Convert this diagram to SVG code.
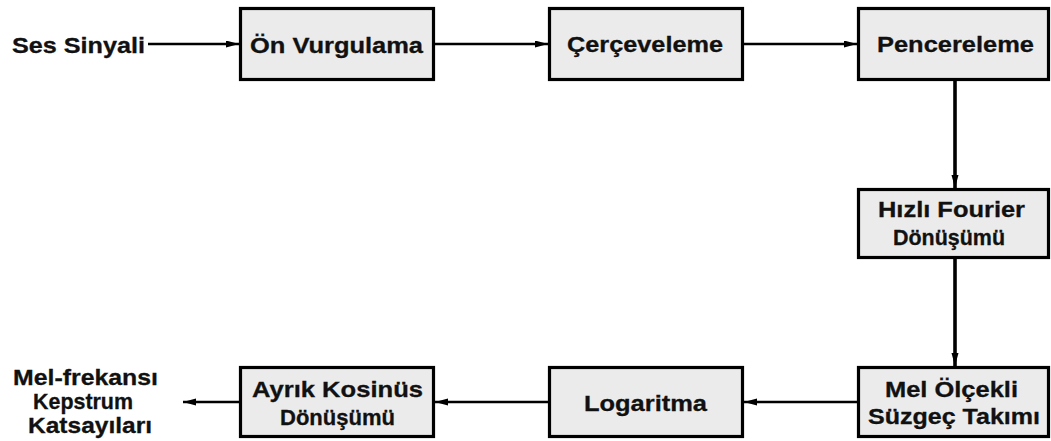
<svg xmlns="http://www.w3.org/2000/svg" width="1051" height="441" viewBox="0 0 1051 441">
  <style>
    .box { fill: #ebebeb; stroke: #000; stroke-width: 3.2; }
    .lbl { font-family: "Liberation Sans", Arial, sans-serif; font-weight: bold; font-size: 22px; fill: #111; stroke: #111; stroke-width: 0.3; text-anchor: middle; }
    .h { stroke: #000; stroke-width: 2.6; fill: none; }
    .v { stroke: #000; stroke-width: 3.6; fill: none; }
  </style>
  <defs>
    <marker id="arrow" markerUnits="userSpaceOnUse" markerWidth="14" markerHeight="8" refX="13" refY="3.5" orient="auto">
      <path d="M0,0 L13,3.5 L0,7 Z" fill="#000"/>
    </marker>
  </defs>
  <rect width="1051" height="441" fill="#fff"/>

  <!-- connectors -->
  <g id="connectors">
    <line class="h" x1="148" y1="44" x2="239" y2="44" marker-end="url(#arrow)"/>
    <line class="h" x1="434" y1="44" x2="548" y2="44" marker-end="url(#arrow)"/>
    <line class="h" x1="743" y1="44" x2="857" y2="44" marker-end="url(#arrow)"/>
    <line class="v" x1="955" y1="80" x2="955" y2="188" marker-end="url(#arrow)"/>
    <line class="v" x1="955" y1="258" x2="955" y2="366" marker-end="url(#arrow)"/>
    <line class="h" x1="858" y1="402" x2="744" y2="402" marker-end="url(#arrow)"/>
    <line class="h" x1="549" y1="402" x2="435" y2="402" marker-end="url(#arrow)"/>
    <line class="h" x1="240" y1="402" x2="183" y2="402" marker-end="url(#arrow)"/>
  </g>

  <!-- input / output labels -->
  <g id="input">
    <text class="lbl" x="78.5" y="53" textLength="133" lengthAdjust="spacingAndGlyphs">Ses Sinyali</text>
  </g>
  <g id="output">
    <text class="lbl" x="85.5" y="385" textLength="145" lengthAdjust="spacingAndGlyphs">Mel-frekansı</text>
    <text class="lbl" x="83" y="409" textLength="100" lengthAdjust="spacingAndGlyphs">Kepstrum</text>
    <text class="lbl" x="90" y="433" textLength="124" lengthAdjust="spacingAndGlyphs">Katsayıları</text>
  </g>

  <!-- processing blocks -->
  <g id="on-vurgulama">
    <rect class="box" x="240.5" y="8.5" width="193" height="71"/>
    <text class="lbl" x="336.5" y="53" textLength="173" lengthAdjust="spacingAndGlyphs">Ön Vurgulama</text>
  </g>
  <g id="cerceveleme">
    <rect class="box" x="549.5" y="8.5" width="193" height="71"/>
    <text class="lbl" x="645" y="52" textLength="156" lengthAdjust="spacingAndGlyphs">Çerçeveleme</text>
  </g>
  <g id="pencereleme">
    <rect class="box" x="858.5" y="8.5" width="190" height="71"/>
    <text class="lbl" x="955.5" y="52" textLength="157" lengthAdjust="spacingAndGlyphs">Pencereleme</text>
  </g>
  <g id="fft">
    <rect class="box" x="858.5" y="189.5" width="190" height="68"/>
    <text class="lbl" x="951.5" y="217" textLength="147" lengthAdjust="spacingAndGlyphs">Hızlı Fourier</text>
    <text class="lbl" x="949" y="245" textLength="112" lengthAdjust="spacingAndGlyphs">Dönüşümü</text>
  </g>
  <g id="mel-filtre">
    <rect class="box" x="858.5" y="367.5" width="190" height="69"/>
    <text class="lbl" x="951.5" y="397" textLength="133" lengthAdjust="spacingAndGlyphs">Mel Ölçekli</text>
    <text class="lbl" x="954" y="424" textLength="172" lengthAdjust="spacingAndGlyphs">Süzgeç Takımı</text>
  </g>
  <g id="logaritma">
    <rect class="box" x="549.5" y="367.5" width="193" height="69"/>
    <text class="lbl" x="645.5" y="411" textLength="123" lengthAdjust="spacingAndGlyphs">Logaritma</text>
  </g>
  <g id="dct">
    <rect class="box" x="240.5" y="367.5" width="193" height="69"/>
    <text class="lbl" x="337.5" y="397" textLength="171" lengthAdjust="spacingAndGlyphs">Ayrık Kosinüs</text>
    <text class="lbl" x="337.5" y="425" textLength="115" lengthAdjust="spacingAndGlyphs">Dönüşümü</text>
  </g>
</svg>
